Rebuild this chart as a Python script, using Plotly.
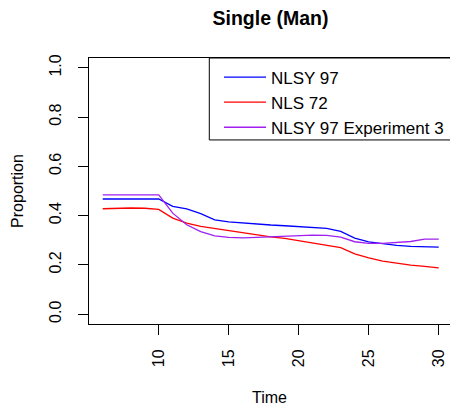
import plotly.graph_objects as go

time = list(range(6, 31))
nlsy97 = [0.4675, 0.4675, 0.4675, 0.4675, 0.4675, 0.438, 0.427, 0.408, 0.383, 0.375,
          0.370, 0.366, 0.362, 0.359, 0.356, 0.354, 0.348, 0.336, 0.309, 0.293,
          0.285, 0.279, 0.275, 0.274, 0.272]
nls72 = [0.428, 0.431, 0.431, 0.430, 0.425, 0.390, 0.370, 0.356, 0.347, 0.339,
         0.331, 0.322, 0.314, 0.308, 0.299, 0.291, 0.282, 0.270, 0.245, 0.228,
         0.215, 0.206, 0.199, 0.194, 0.188]
exp3 = [0.484, 0.484, 0.484, 0.484, 0.484, 0.410, 0.363, 0.335, 0.318, 0.312,
        0.310, 0.312, 0.314, 0.317, 0.320, 0.321, 0.320, 0.313, 0.294, 0.287,
        0.287, 0.290, 0.295, 0.305, 0.305]
series_names = ["NLSY 97", "NLS 72", "NLSY 97 Experiment 3"]
series_colors = ["#0000FF", "#FF0000", "#A020F0"]
x_ticks = [10, 15, 20, 25, 30]
y_ticks = [0.0, 0.2, 0.4, 0.6, 0.8, 1.0]

FONT = "Liberation Sans, Arial, sans-serif"

fig = go.Figure()
for name, vals, col in zip(series_names, [nlsy97, nls72, exp3], series_colors):
    fig.add_trace(go.Scatter(x=time, y=vals, mode="lines", name=name,
                             line=dict(color=col, width=1.3)))

L, R, T, B = 89, 0, 58, 85
W, H = 450, 409
pw = W - L - R

fig.update_layout(
    width=W, height=H,
    margin=dict(l=L, r=R, t=T, b=B),
    paper_bgcolor="white", plot_bgcolor="white",
    font=dict(family=FONT, size=16, color="black"),
    title=dict(text="<b>Single (Man)</b>", x=(270.5) / W, xanchor="center",
               y=1 - 18.5 / H, yanchor="middle", font=dict(size=19.5)),
    showlegend=True,
    legend=dict(x=(219 - L) / pw, y=1 - 1.5 / 266.2, xanchor="left", yanchor="top",
                bgcolor="rgba(0,0,0,0)", borderwidth=0,
                font=dict(size=17), tracegroupgap=0, itemwidth=42),
    xaxis=dict(range=[5.02, 5.02 + pw / 14.0], tickvals=x_ticks,
               ticktext=[str(v) for v in x_ticks], tickangle=-90,
               showgrid=False, zeroline=False, showline=True, linecolor="black",
               linewidth=1, mirror=True, ticks="outside", ticklen=10,
               tickcolor="black", tickfont=dict(size=16), ticklabelstandoff=8,
               title=dict(text="Time", font=dict(size=16), standoff=25)),
    yaxis=dict(range=[-0.04, 1.04], tickvals=y_ticks,
               ticktext=[f"{v:.1f}" for v in y_ticks], tickangle=-90,
               showgrid=False, zeroline=False, showline=True, linecolor="black",
               linewidth=1, ticks="outside", ticklen=10, tickcolor="black",
               tickfont=dict(size=16), ticklabelstandoff=11,
               title=dict(text="Proportion", font=dict(size=16), standoff=18)),
    shapes=[dict(type="rect", xref="paper", yref="paper",
                 x0=(209.3 - L) / pw, x1=1.05, y0=(324.2 - 140) / 266.2, y1=1,
                 line=dict(color="black", width=1), fillcolor="rgba(0,0,0,0)")],
)

fig.write_html("out.html")
